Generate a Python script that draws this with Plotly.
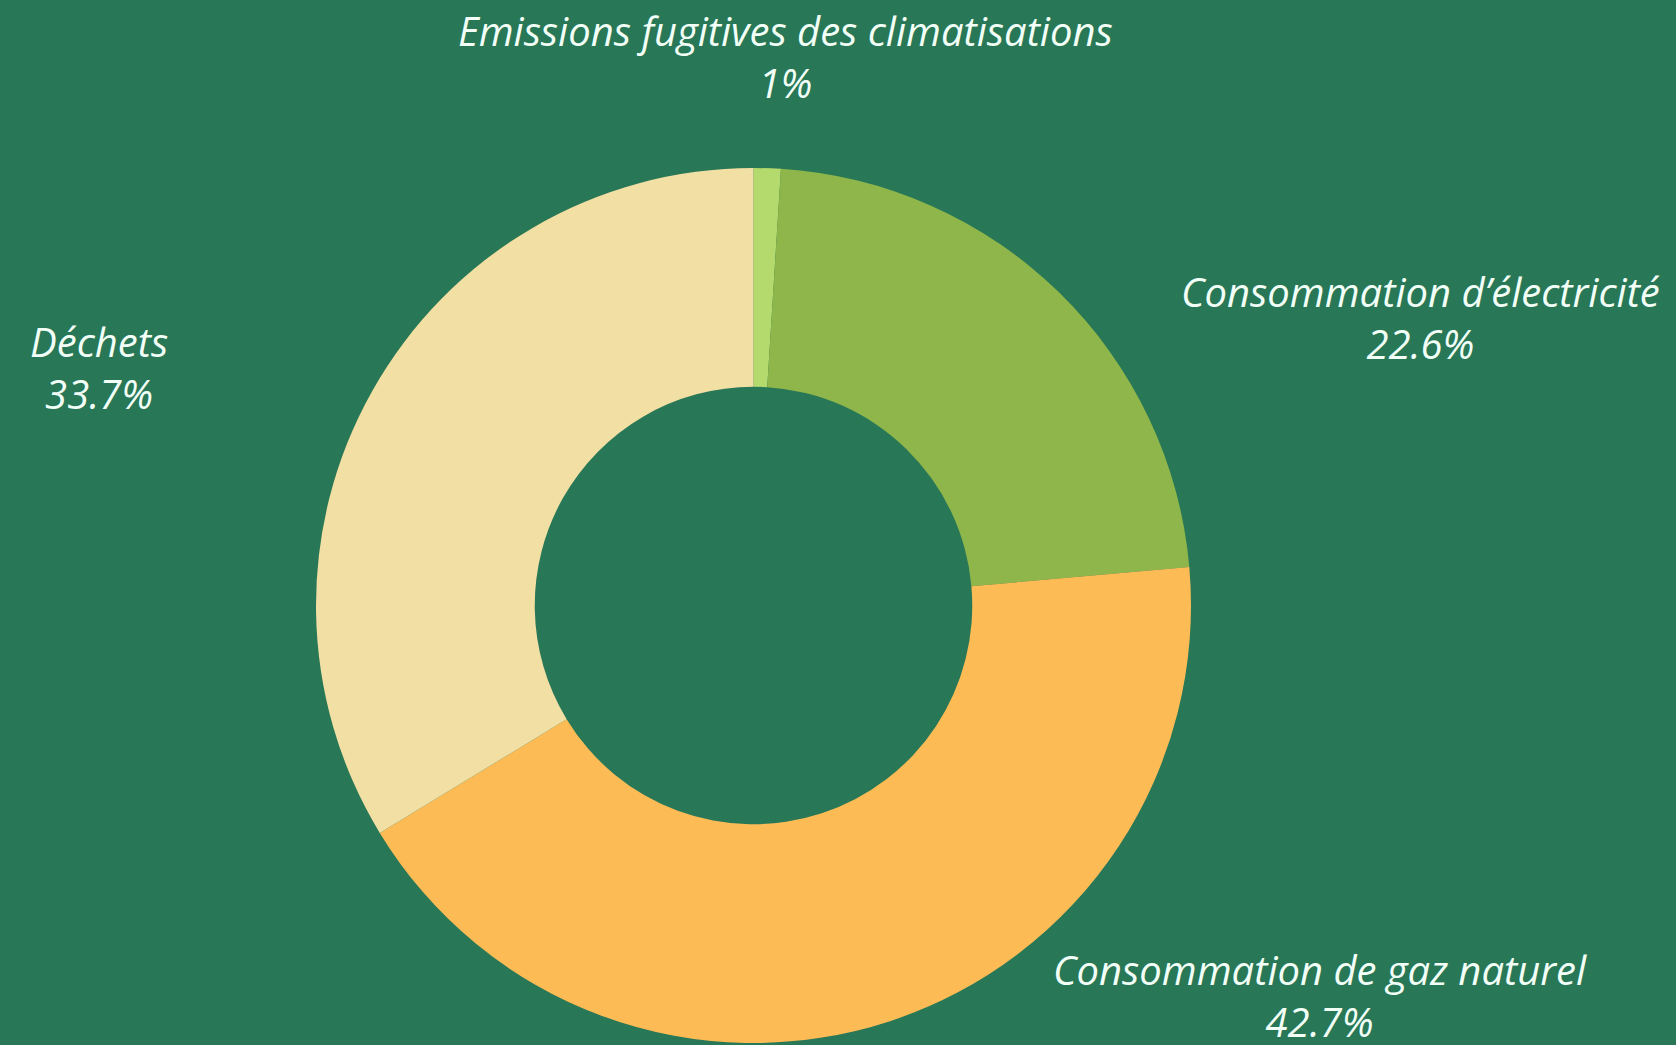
import plotly.graph_objects as go

W, H = 1676, 1045

labels = ["Emissions fugitives des climatisations", "Consommation d’électricité",
          "Consommation de gaz naturel", "Déchets"]
values = [1.0, 22.6, 42.7, 33.7]
colors = ["#B4D96C", "#8FB64A", "#FDBB56", "#F2DFA3"]

# label block centres in pixels (x, y from top)
label_pos = [(785, 56), (1420, 317), (1320, 995), (99, 367)]

BG = "#287757"
TXT = "#F2FFF7"

fig = go.Figure(go.Pie(
    labels=labels,
    values=values,
    hole=0.5,
    sort=False,
    direction="clockwise",
    rotation=0,
    marker=dict(colors=colors, line=dict(width=0)),
    textinfo="none",
    hoverinfo="label+percent",
    domain=dict(x=[315 / W, 1192 / W], y=[1 - 1043 / H, 1 - 168 / H]),
    showlegend=False,
))

for lab, val, (px, py) in zip(labels, values, label_pos):
    fig.add_annotation(
        x=px / W, y=1 - py / H, xref="paper", yref="paper",
        xanchor="center", yanchor="middle", align="center",
        text=f"{lab}<br>{val:g}%", showarrow=False,
        font=dict(family="Open Sans", size=40, color=TXT, style="italic"),
    )

fig.update_layout(
    width=W, height=H,
    margin=dict(l=0, r=0, t=0, b=0),
    paper_bgcolor=BG, plot_bgcolor=BG,
)

fig.write_html("out.html", config={"displayModeBar": False},
               post_script="document.body.style.margin='0';document.body.style.background='%s';" % BG)
